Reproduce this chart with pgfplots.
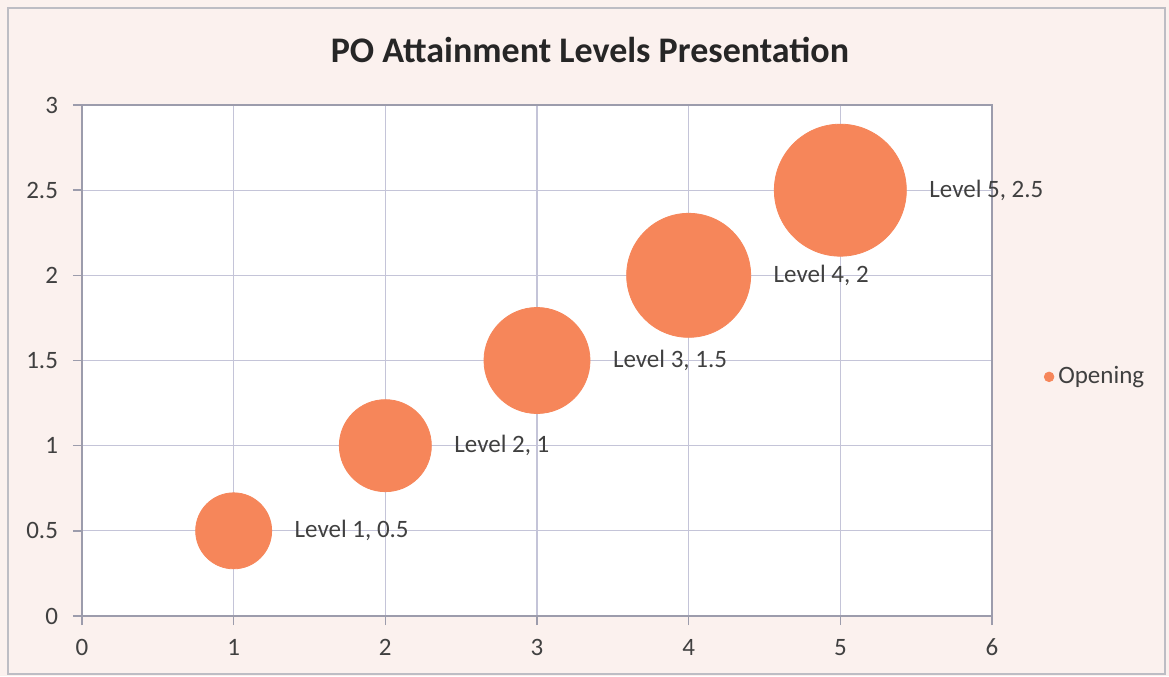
\documentclass[border=0pt]{standalone}
\usepackage{pgfplots}
\pgfplotsset{compat=1.18}
\usepackage{fontspec}
\setmainfont{Carlito}
\definecolor{bubble}{HTML}{F6865A}
\definecolor{bg}{HTML}{FBF1EE}
\definecolor{gridc}{HTML}{C4C4D8}
\definecolor{axisc}{HTML}{9C9CAC}
\definecolor{txt}{HTML}{404040}
\definecolor{frame}{HTML}{BDBDC4}
\pgfplotsset{
  bub/.style n args={2}{only marks, mark=*, mark size=#1pt,
    mark options={draw=bubble, fill=bubble}, color=bubble,
    nodes near coords={#2},
    nodes near coords style={anchor=west, xshift={(#1+8)*1pt},
      font=\fontsize{12.5}{15}\selectfont, text=txt}},
}
\begin{document}
\begin{tikzpicture}
\fill[bg] (-41pt,-30pt) rectangle (543.5pt,308pt);
\draw[frame, line width=0.8pt] (-37pt,-29pt) rectangle (541.5pt,304pt);
\node[font=\fontsize{18}{21}\selectfont\bfseries, text=black!85] at (254pt,283pt) {PO Attainment Levels Presentation};
\begin{axis}[
  at={(0pt,0pt)}, anchor=south west,
  scale only axis, width=455pt, height=255.5pt,
  xmin=0, xmax=6, ymin=0, ymax=3,
  xtick={0,1,2,3,4,5,6}, ytick={0,0.5,1,1.5,2,2.5,3},
  grid=major, grid style={gridc, line width=0.6pt},
  axis line style={axisc, line width=0.7pt},
  axis background/.style={fill=white},
  tick style={axisc, line width=0.7pt},
  tick align=outside, major tick length=4.5pt,
  xtick pos=left, ytick pos=left,
  ticklabel style={font=\fontsize{12.5}{15}\selectfont, text=txt},
  xticklabel style={yshift=-3.5pt},
  yticklabel style={xshift=-4pt},
  /pgf/number format/assume math mode=true,
  clip=false,
  legend style={at={(1.05,0.468)}, anchor=west, draw=none, fill=none,
    font=\fontsize{12.5}{15}\selectfont, text=txt},
  legend image code/.code={\fill[bubble] (0.25cm,0pt) circle (2.4pt);},
]
\addplot[bub={19}{Level 1, 0.5}] coordinates {(1,0.5)};
\addlegendentry{Opening}
\addplot[bub={23}{Level 2, 1}, forget plot] coordinates {(2,1)};
\addplot[bub={26.5}{Level 3, 1.5}, forget plot] coordinates {(3,1.5)};
\addplot[bub={31}{Level 4, 2}, forget plot] coordinates {(4,2)};
\addplot[bub={33}{Level 5, 2.5}, forget plot] coordinates {(5,2.5)};
\end{axis}
\end{tikzpicture}
\end{document}
